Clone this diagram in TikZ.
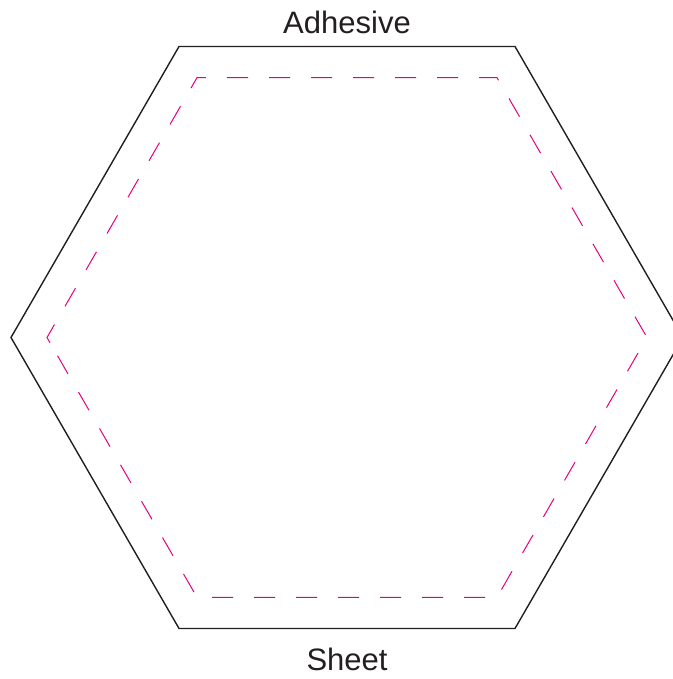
\documentclass[tikz,border=0pt]{standalone}
\usepackage{fontspec}
\setmainfont{Liberation Sans}
\definecolor{gluepink}{RGB}{230,0,126}
\definecolor{inkline}{RGB}{35,31,32}
\begin{document}
\begin{tikzpicture}[x=0.5pt, y=0.5pt,
    sheetedge/.style={draw=inkline, line width=0.7pt, line join=miter},
    glueedge/.style={draw=gluepink, line width=0.5pt, dash pattern=on 10.5pt off 10.5pt},
    tag/.style={font=\fontsize{15.5}{18}\selectfont, text=inkline, inner sep=0pt, anchor=base}]
  \useasboundingbox (0,0) rectangle (673,679);
  \coordinate (mid) at (347,341.5);

  % sheet outline
  \draw[sheetedge, shift={(mid)}] (0:336) -- (60:336) -- (120:336) -- (180:336)
    -- (240:336) -- (300:336) -- cycle;
  % adhesive border
  \draw[glueedge, shift={(mid)}] (-297,-5.2) -- (180:300) -- (120:300) -- (60:300)
    -- (0:300) -- (-60:300) -- (-120:300) -- cycle;

  \node[tag] (adhesive) at (347,645.5) {Adhesive};
  \node[tag] (sheet) at (347,9) {Sheet};
\end{tikzpicture}
\end{document}
